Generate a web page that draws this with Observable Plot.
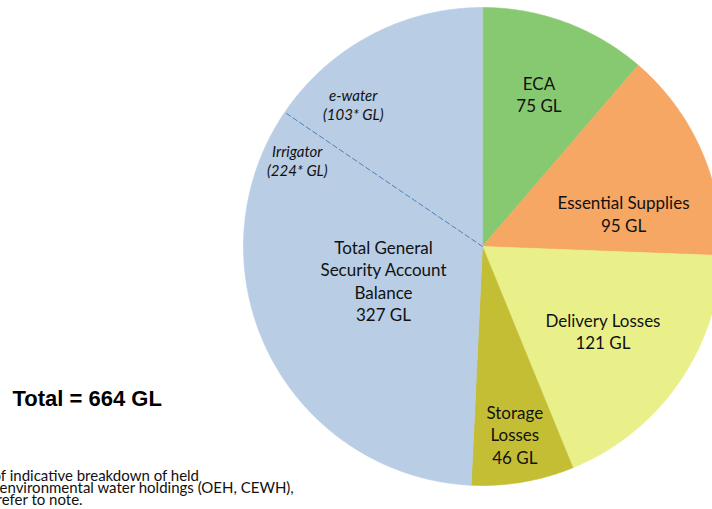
<!DOCTYPE html>
<html><head><meta charset="utf-8">
<script src="https://cdn.jsdelivr.net/npm/d3@7"></script>
<script src="https://cdn.jsdelivr.net/npm/@observablehq/plot@0.6"></script>
<style>html,body{margin:0;padding:0;background:#fff;overflow:hidden}</style>
</head><body><div id="chart"></div>
<script>
// ---- data ----
const categories = ["ECA", "Essential Supplies", "Delivery Losses", "Storage Losses", "Total General Security Account Balance"];
const values = [75, 95, 121, 46, 327];
const sliceLabels = ["ECA", "Essential Supplies", "Delivery Losses", "Storage\nLosses", "Total General\nSecurity Account\nBalance"];
const subCategories = ["Irrigator", "e-water"];
const subValues = [224, 103];
const totalLabel = "Total = 664 GL";
const noteLines = ["of indicative breakdown of held", "environmental water holdings (OEH, CEWH),", "refer to note."];

// ---- styles / layout (kept apart from data) ----
const colors = ["#87C970", "#F7A764", "#EAF089", "#C4BE35", "#B9CDE5"];
const W = 712, H = 509, CX = 482, CY = 246, R = 239;
const labelShift = [0, 10.4, 0, 0, -20.3];      // degrees from slice mid-angle
const labelRadius = [0.68, 0.606, 0.615, 0.797, 0.438];
const subShift = [-9.3, 13.5];                  // degrees from split line
const subRadius = [0.854, 0.803];
const noteDx = [-8, -1, -4];

const total = d3.sum(values);
const deg = Math.PI / 180;
let acc = 0;
const slices = categories.map((name, i) => {
  const a0 = acc / total * 360; acc += values[i]; const a1 = acc / total * 360;
  return {name, label: sliceLabels[i] + "\n" + values[i] + " GL", a0, a1, i};
});
const pts = [];
for (const s of slices) {
  pts.push({name: s.name, x: 0, y: 0});
  const n = Math.max(2, Math.ceil((s.a1 - s.a0) / 0.5));
  for (let k = 0; k <= n; k++) {
    const a = (s.a0 + (s.a1 - s.a0) * k / n) * deg;
    pts.push({name: s.name, x: Math.sin(a), y: Math.cos(a)});
  }
}
const labelPts = slices.map(s => {
  const a = ((s.a0 + s.a1) / 2 + labelShift[s.i]) * deg;
  return {text: s.label, x: labelRadius[s.i] * Math.sin(a), y: labelRadius[s.i] * Math.cos(a)};
});
const gen = slices[4];
const split = gen.a0 + subValues[0] / total * 360;
const splitLine = [{x: 0, y: 0}, {x: Math.sin(split * deg), y: Math.cos(split * deg)}];
const subPts = subCategories.map((name, j) => {
  const a = (split + subShift[j]) * deg;
  return {text: name + "\n(" + subValues[j] + "* GL)", x: subRadius[j] * Math.sin(a), y: subRadius[j] * Math.cos(a)};
});

const chart = Plot.plot({
  width: W, height: H,
  marginTop: 0, marginRight: 0, marginBottom: 0, marginLeft: 0,
  x: {domain: [-CX / R, (W - CX) / R], range: [0, W], axis: null},
  y: {domain: [-(H - CY) / R, CY / R], range: [H, 0], axis: null},
  color: {domain: categories, range: colors},
  style: {background: "#fff"},
  marks: [
    Plot.line(pts, {x: "x", y: "y", z: "name", fill: "name", stroke: "name", strokeWidth: 0.6, curve: "linear-closed"}),
    Plot.line(splitLine, {x: "x", y: "y", stroke: "#4F81BD", strokeWidth: 1, strokeDasharray: "5,3"}),
    Plot.text(labelPts, {x: "x", y: "y", text: "text", fontSize: 17, lineHeight: 22.4 / 17, fill: "#111", fontFamily: "Lato, 'Noto Sans', sans-serif"}),
    Plot.text(subPts, {x: "x", y: "y", text: "text", fontSize: 15, lineHeight: 18.7 / 15, fontStyle: "italic", fill: "#111", fontFamily: "Lato, 'Noto Sans', sans-serif"}),
    Plot.text([totalLabel], {text: d => d, frameAnchor: "top-left", dx: 12, dy: 390, textAnchor: "start", fontSize: 22, fontWeight: "bold", fill: "#000", fontFamily: "'Liberation Sans', Arial, sans-serif"}),
    ...noteLines.map((t, i) => Plot.text([t], {text: d => d, frameAnchor: "top-left", dx: noteDx[i], dy: 470 + 12 * i, textAnchor: "start", fontSize: 15, fill: "#111", fontFamily: "Lato, 'Noto Sans', sans-serif"}))
  ]
});
document.getElementById("chart").appendChild(chart);
</script>
</body></html>
